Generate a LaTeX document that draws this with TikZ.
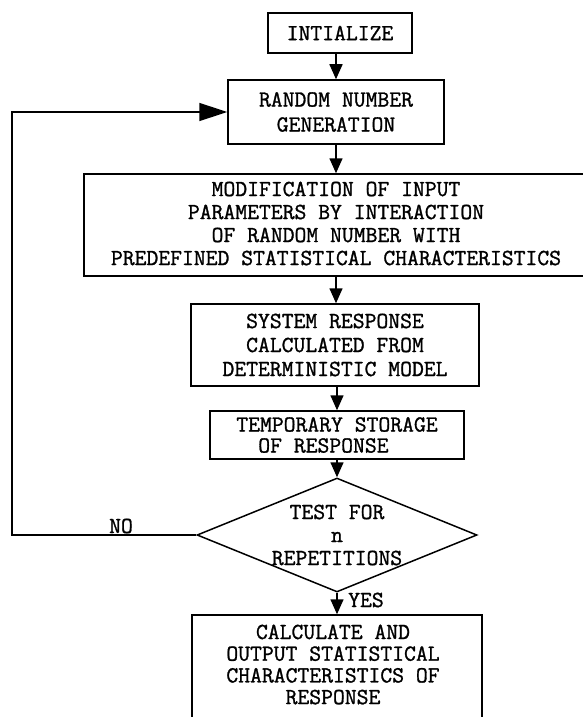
\documentclass[tikz,border=0pt]{standalone}
\usepackage{fontspec}
\newfontfamily\twfont{Latin Modern Mono}[FakeBold=1.2]
\usetikzlibrary{arrows.meta,shapes.geometric}
\newcommand\mytt[1]{\twfont\fontsize{23}{#1}\selectfont}
\begin{document}
\begin{tikzpicture}[x=1pt,y=-1pt,
  box/.style={draw, line width=1.5pt, inner sep=0pt, align=center, font=\mytt{24}},
  txt/.style={inner sep=0pt, align=center, font=\mytt{24}},
  arr/.style={line width=1.5pt, -{Triangle[length=15pt,width=13pt]}},
  bigarr/.style={line width=1.5pt, -{Triangle[length=28pt,width=18pt]}}]
\useasboundingbox (0,0) rectangle (583,717);
\node[box, minimum width=144pt, minimum height=40pt] (init) at (340,33) {INTIALIZE};
\node[box, minimum width=216pt, minimum height=64pt, font=\mytt{25}] (rng) at (336,112) {RANDOM NUMBER\\GENERATION};
\node[box, minimum width=506pt, minimum height=102pt] (mod) at (337,225) {};
\node[txt, font=\mytt{23}] (modtext) at (336,223.5) {MODIFICATION OF INPUT\\PARAMETERS BY INTERACTION\\OF RANDOM NUMBER WITH\\PREDEFINED STATISTICAL CHARACTERISTICS};
\node[box, minimum width=288pt, minimum height=82pt, font=\mytt{24}] (sys) at (335,345) {SYSTEM RESPONSE\\CALCULATED FROM\\DETERMINISTIC MODEL};
\node[box, minimum width=254pt, minimum height=48pt, font=\mytt{21}, align=left] (tmp) at (337,435) {TEMPORARY STORAGE\\\hspace*{22pt}OF RESPONSE};
\node[diamond, draw, line width=1.5pt, minimum width=280pt, minimum height=114pt, shape aspect=2.46, inner sep=0pt] (dia) at (337,535) {};
\node[txt, font=\mytt{23}] (diatext) at (337,535) {TEST FOR\\n\\REPETITIONS};
\node[box, minimum width=290pt, minimum height=130pt] (calc) at (337,680) {};
\node[txt, font=\mytt{21.7}] (calctext) at (333,664.5) {CALCULATE AND\\OUTPUT STATISTICAL\\CHARACTERISTICS OF\\RESPONSE};
\node[txt] (no) at (121,526) {NO};
\node[txt, anchor=west] (yes) at (348,600) {YES};
\coordinate (fb) at (12,535);
\draw[arr] (init.south -| rng) -- (rng.north);
\draw[arr] (rng.south) -- (rng.south |- mod.north);
\draw[arr] (rng.south |- mod.south) -- (rng.south |- sys.north);
\draw[arr] (sys.south -| tmp) -- (tmp.north);
\draw[arr] (tmp.south) -- (dia.north);
\draw[arr] (dia.south) -- (dia.south |- calc.north);
\draw[bigarr] (dia.west) -- (fb) |- (rng.west);
\end{tikzpicture}
\end{document}
